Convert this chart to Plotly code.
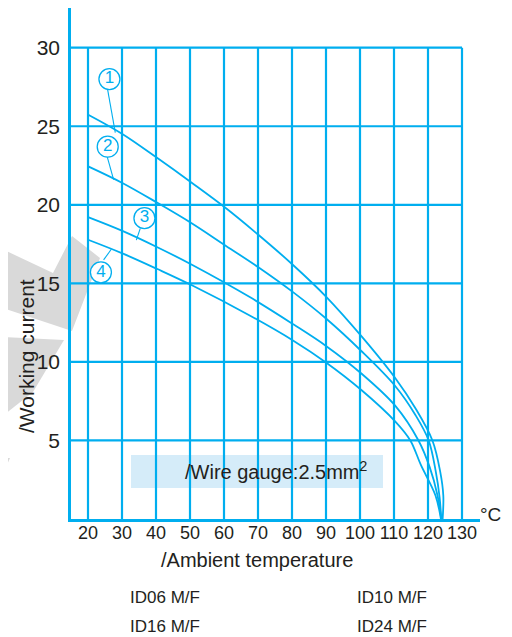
import plotly.graph_objects as go

# ---------------- data ----------------
x_ticks = [20, 30, 40, 50, 60, 70, 80, 90, 100, 110, 120, 130]
y_ticks = [5, 10, 15, 20, 25, 30]

c1_temp = [20.2, 30.1, 40.3, 50.6, 60.6, 70.0, 80.3, 90.0, 100.6, 110.4, 116.3, 121.3, 123.6, 124.5, 124.3]
c1_curr = [25.72, 24.51, 22.99, 21.39, 19.78, 18.11, 16.17, 14.16, 11.59, 8.96, 7.05, 5.0, 3.0, 1.5, 0]

c2_temp = [20.2, 30.1, 40.3, 50.6, 60.6, 70.0, 80.3, 90.0, 100.3, 110.4, 116.3, 120.2, 122.3, 123.4, 123.9]
c2_curr = [22.43, 21.39, 20.14, 18.81, 17.38, 16.04, 14.44, 12.76, 10.71, 8.45, 6.62, 5.0, 3.0, 1.4, 0]

c3_temp = [20.2, 30.1, 40.4, 50.7, 67.7, 80.4, 90.1, 100.4, 110.4, 117.2, 120.5, 122.8, 123.9]
c3_curr = [19.2, 18.34, 17.3, 16.17, 14.11, 12.39, 11.0, 9.26, 7.2, 5.0, 3.3, 1.5, 0]

c4_temp = [20.2, 30.1, 40.4, 50.7, 67.7, 80.4, 90.1, 100.4, 110.4, 114.8, 117.9, 122.2, 123.8]
c4_curr = [17.76, 16.91, 15.91, 14.86, 12.94, 11.35, 9.95, 8.21, 6.2, 5.0, 3.44, 1.5, 0]

curve_ids = ["1", "2", "3", "4"]
label_x = [26.3, 25.8, 36.6, 23.8]
label_y = [28.0, 23.7, 19.15, 15.7]
leaders = [((25.76, 27.35), (28.03, 24.6)),
           ((25.68, 23.04), (27.53, 21.6)),
           ((35.38, 18.50), (34.21, 17.75)),
           ((24.59, 16.49), (26.85, 17.17))]

legend_text = ["ID06 M/F", "ID10 M/F", "ID16 M/F", "ID24 M/F"]

# ---------------- layout constants ----------------
CYAN = "#00AEEF"
TXT = "#231f20"
FONT = "Liberation Sans, Arial, sans-serif"
OFF = 8                      # page body margin
W, H = 512 - OFF, 637 - OFF
L, R, T, B = 71 - OFF, 32, 0, 118
PW, PH = W - L - R, H - T - B
X0 = 15
X1 = X0 + PW / 3.4
Y1 = PH / 15.71


def pxx(px):
    return (px - OFF - L) / PW


def pyy(py):
    return (H - B - (py - OFF)) / PH


fig = go.Figure()

for xs, ys in [(c1_temp, c1_curr), (c2_temp, c2_curr), (c3_temp, c3_curr), (c4_temp, c4_curr)]:
    fig.add_trace(go.Scatter(x=xs, y=ys, mode="lines",
                             line=dict(color=CYAN, width=1.8, shape="spline", smoothing=1.0),
                             hoverinfo="skip", showlegend=False, cliponaxis=False))

fig.add_trace(go.Scatter(x=label_x, y=label_y, mode="markers+text", text=curve_ids,
                         textposition="middle center",
                         textfont=dict(family=FONT, size=17, color=CYAN),
                         marker=dict(symbol="circle", size=21, color="white",
                                     line=dict(color=CYAN, width=1.3)),
                         hoverinfo="skip", showlegend=False, cliponaxis=False))

shapes = []


def poly(pts):
    return "M " + " L ".join(f"{pxx(a):.4f},{pyy(b):.4f}" for a, b in pts) + " Z"


# faint watermark fragments
for pts in [[(0, 248), (53, 273), (72, 236), (100, 258), (72, 331), (0, 307)],
            [(0, 337), (64, 340), (33, 392), (0, 418)],
            [(0, 458), (10, 458), (0, 480)]]:
    shapes.append(dict(type="path", xref="paper", yref="paper", path=poly(pts),
                       fillcolor="#d9d9d9", line=dict(width=0), layer="below"))

for v in x_ticks:
    shapes.append(dict(type="line", xref="x", yref="y", x0=v, x1=v, y0=0, y1=max(y_ticks),
                       line=dict(color=CYAN, width=2.2), layer="below"))
for v in y_ticks:
    shapes.append(dict(type="line", xref="x", yref="y", x0=X0, x1=max(x_ticks), y0=v, y1=v,
                       line=dict(color=CYAN, width=2.2), layer="below"))
# wire gauge box
shapes.append(dict(type="rect", xref="paper", yref="paper",
                   x0=pxx(131), x1=pxx(383), y0=pyy(488), y1=pyy(455),
                   fillcolor="#d5ecf9", line=dict(width=0), layer="below"))
for (a, b) in leaders:
    shapes.append(dict(type="line", xref="x", yref="y", x0=a[0], y0=a[1], x1=b[0], y1=b[1],
                       line=dict(color=CYAN, width=1.1)))

ann = []


def text(s, px, py, size, xanchor="center", angle=0):
    ann.append(dict(text=s, xref="paper", yref="paper", x=pxx(px), y=pyy(py),
                    xanchor=xanchor, yanchor="middle", showarrow=False, textangle=angle,
                    font=dict(family=FONT, size=size, color=TXT)))


text("/Ambient temperature", 257, 560, 20)
text("/Working current", 26, 356, 21, angle=-90)
text("°C", 490, 514, 19)
text("/Wire gauge:2.5mm<sup>2</sup>", 276, 470, 20)
text(legend_text[0], 128, 597, 17, xanchor="left")
text(legend_text[1], 355, 597, 17, xanchor="left")
text(legend_text[2], 128, 626, 17, xanchor="left")
text(legend_text[3], 355, 626, 17, xanchor="left")

fig.update_layout(
    width=W, height=H, margin=dict(l=L, r=R, t=T, b=B, autoexpand=False),
    paper_bgcolor="white", plot_bgcolor="white",
    shapes=shapes, annotations=ann,
    xaxis=dict(range=[X0, X1], tickvals=x_ticks, ticktext=[str(v) for v in x_ticks],
               showgrid=False, zeroline=False, showline=True, linecolor=CYAN, linewidth=2.5,
               ticks="", tickfont=dict(family=FONT, size=18, color=TXT), ticklabelstandoff=-4),
    yaxis=dict(range=[0, Y1], tickvals=y_ticks, ticktext=[str(v) for v in y_ticks],
               showgrid=False, zeroline=False, showline=True, linecolor=CYAN, linewidth=2.5,
               ticks="", tickfont=dict(family=FONT, size=21, color=TXT), ticklabelstandoff=4),
)

fig.write_html("out.html")
